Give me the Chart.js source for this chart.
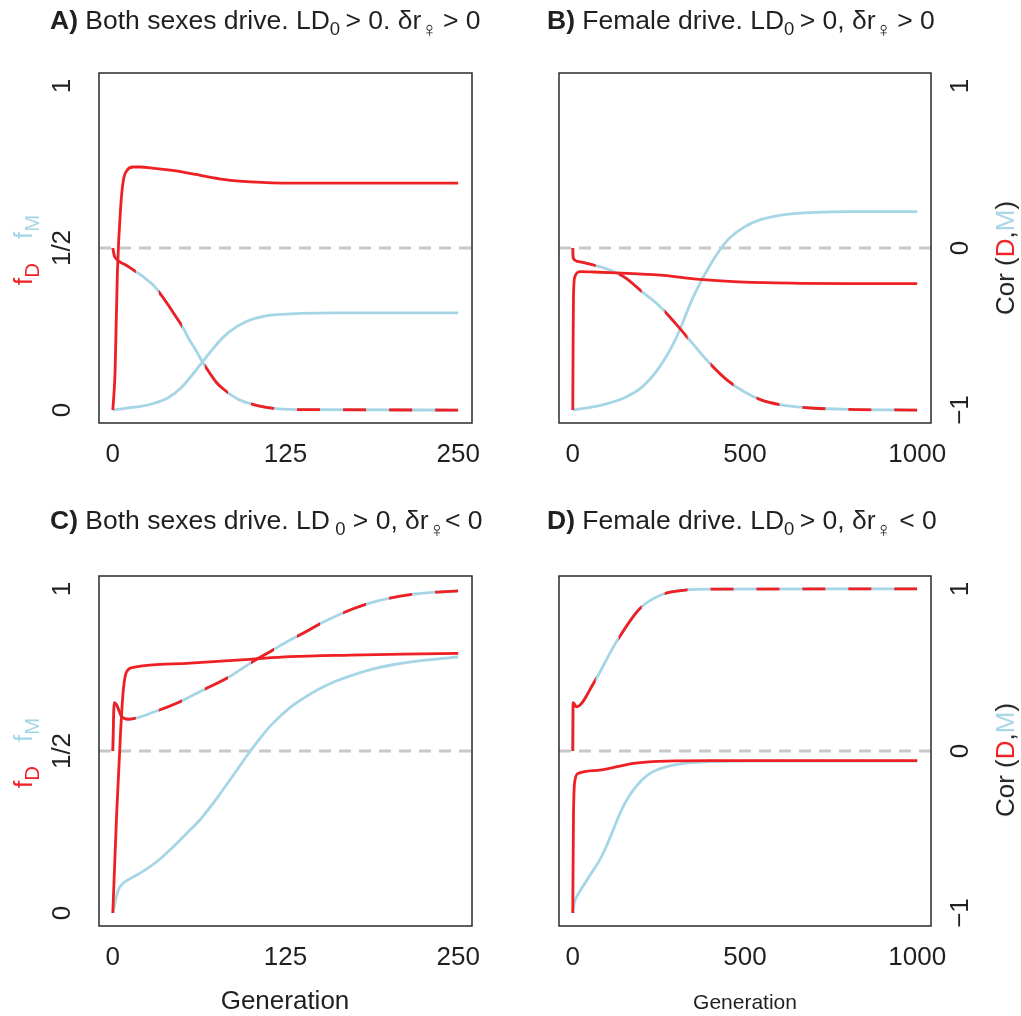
<!DOCTYPE html>
<html><head><meta charset="utf-8">
<script src="https://cdn.jsdelivr.net/npm/chart.js@4/dist/chart.umd.min.js"></script>
<style>
body{margin:0;background:#fff;width:1021px;height:1016px;overflow:hidden;position:relative;font-family:"Liberation Sans",Arial,sans-serif;color:#231f20}
canvas{position:absolute;left:0;top:0}
.t{position:absolute;font-size:26.5px;white-space:nowrap;line-height:26px}
.rot{position:absolute;white-space:nowrap;line-height:1;font-size:26px;transform:translate(-50%,-50%) rotate(-90deg)}
.gen{position:absolute;white-space:nowrap;line-height:1;transform:translate(-50%,-50%)}
sub{font-size:70%;vertical-align:-0.35em;line-height:0}
sub.v{font-size:82%}
.rot sub{font-size:78%}
.r{color:#ee2024}.b{color:#a6d6e6}
</style></head>
<body>
<canvas id="cA" width="1021" height="1016"></canvas>
<canvas id="cB" width="1021" height="1016"></canvas>
<canvas id="cC" width="1021" height="1016"></canvas>
<canvas id="cD" width="1021" height="1016"></canvas>

<div class="t" style="left:50px;top:7px"><b>A)</b> Both sexes drive. LD<sub>0</sub>&thinsp;&gt; 0. δr<sub class="v">♀</sub>&thinsp;&gt; 0</div>
<div class="t" style="left:547px;top:7px"><b>B)</b> Female drive. LD<sub>0</sub>&thinsp;&gt; 0, δr<sub class="v">♀</sub>&thinsp;&gt; 0</div>
<div class="t" style="left:50px;top:507px"><b>C)</b> Both sexes drive. LD&thinsp;<sub>0</sub> &gt; 0, δr<sub class="v">♀</sub>&lt; 0</div>
<div class="t" style="left:547px;top:507px"><b>D)</b> Female drive. LD<sub>0</sub>&thinsp;&gt; 0, δr<sub class="v">♀</sub> &lt; 0</div>

<div class="rot r" style="left:23px;top:274px">f<sub>D</sub></div>
<div class="rot b" style="left:23px;top:227px">f<sub>M</sub></div>
<div class="rot r" style="left:23px;top:777px">f<sub>D</sub></div>
<div class="rot b" style="left:23px;top:730px">f<sub>M</sub></div>
<div class="rot" style="left:1005px;top:258px">Cor (<span class="r">D</span>,<span class="b">M</span>)</div>
<div class="rot" style="left:1005px;top:760px">Cor (<span class="r">D</span>,<span class="b">M</span>)</div>

<div class="gen" style="left:285px;top:1000px;font-size:26px">Generation</div>
<div class="gen" style="left:745px;top:1001px;font-size:21px">Generation</div>

<script>
// ---------- data ----------
// Panel A (both sexes drive, dr > 0), generations 0..250
const gensA_fD = [0, 1.6, 3.3, 5.7, 7.6, 10.3, 14.6, 20, 30, 40, 50, 60, 70, 80, 90, 100, 115, 130, 250];
const fD_A     = [0, 0.113, 0.423, 0.627, 0.708, 0.740, 0.750, 0.750, 0.746, 0.741, 0.735, 0.727, 0.719, 0.712, 0.707, 0.704, 0.701, 0.700, 0.700];
const gensA_fM = [0, 10, 20, 30, 40, 50, 60, 70, 80, 90, 100, 110, 120, 135, 160, 250];
const fM_A     = [0, 0.006, 0.011, 0.021, 0.038, 0.071, 0.122, 0.176, 0.225, 0.258, 0.279, 0.290, 0.295, 0.298, 0.300, 0.300];
const gensA_cor = [0, 1, 2, 5, 10, 15, 20, 25, 30, 35, 40, 45, 50, 55, 60, 65, 70, 75, 80, 90, 100, 110, 120, 140, 250];
const corA      = [0, -0.045, -0.062, -0.085, -0.108, -0.136, -0.165, -0.198, -0.235, -0.29, -0.35, -0.415, -0.48, -0.56, -0.63, -0.705, -0.77, -0.83, -0.87, -0.93, -0.962, -0.982, -0.993, -0.998, -1];

// Panel B (female drive, dr > 0), generations 0..1000
const gensB_fD = [0, 1, 2, 6, 21, 60, 127, 253, 369, 466, 659, 800, 1000];
const fD_B     = [0, 0.22, 0.349, 0.411, 0.427, 0.426, 0.423, 0.416, 0.403, 0.396, 0.391, 0.390, 0.390];
const gensB_fM = [0, 50, 100, 150, 200, 250, 300, 350, 400, 450, 500, 550, 600, 650, 700, 800, 1000];
const fM_B     = [0, 0.008, 0.02, 0.038, 0.07, 0.13, 0.222, 0.35, 0.45, 0.525, 0.566, 0.589, 0.601, 0.607, 0.610, 0.612, 0.612];
const gensB_cor = [0, 0.5, 1.5, 20, 60, 100, 150, 200, 250, 300, 350, 400, 450, 500, 550, 600, 650, 700, 800, 1000];
const corB      = [0, -0.037, -0.064, -0.085, -0.105, -0.13, -0.18, -0.268, -0.355, -0.47, -0.595, -0.717, -0.818, -0.89, -0.94, -0.966, -0.98, -0.989, -0.996, -1];

// Panel C (both sexes drive, dr < 0), generations 0..250
const gensC_fD = [0, 2.8, 5.7, 7.6, 10, 14.8, 56, 99, 128, 172, 210, 250];
const fD_C     = [0, 0.308, 0.565, 0.688, 0.745, 0.758, 0.771, 0.783, 0.791, 0.796, 0.799, 0.801];
const gensC_fM = [0, 2, 4, 7, 10, 15, 20, 27, 35, 44, 53, 63, 72, 80, 90, 99, 108, 116, 128, 140, 150, 160, 172, 190, 208, 230, 250];
const fM_C     = [0, 0.04, 0.071, 0.09, 0.100, 0.112, 0.124, 0.143, 0.17, 0.205, 0.244, 0.287, 0.335, 0.382, 0.442, 0.497, 0.547, 0.586, 0.633, 0.668, 0.693, 0.713, 0.732, 0.755, 0.770, 0.782, 0.790];
const gensC_cor = [0, 1, 2.8, 6.4, 11.2, 31.8, 48.7, 65.5, 82.5, 99.3, 115, 128.3, 140, 150, 160, 174, 186, 199.5, 216.4, 233.3, 250];
const corC      = [0, 0.298, 0.284, 0.212, 0.196, 0.247, 0.304, 0.377, 0.449, 0.541, 0.619, 0.685, 0.737, 0.785, 0.827, 0.878, 0.913, 0.942, 0.967, 0.980, 0.988];

// Panel D (female drive, dr < 0), generations 0..1000
const gensD_fD = [0, 2, 6.4, 16, 79, 176, 273, 400, 1000];
const fD_D     = [0, 0.30, 0.41, 0.431, 0.441, 0.462, 0.469, 0.470, 0.470];
const gensD_fM = [0, 4, 11, 25, 40, 60, 75, 89, 100, 113, 125, 137, 150, 163, 176, 200, 224, 250, 273, 300, 340, 400, 500, 1000];
const fM_D     = [0, 0.03, 0.05, 0.075, 0.1, 0.133, 0.158, 0.186, 0.212, 0.245, 0.277, 0.307, 0.336, 0.36, 0.380, 0.41, 0.431, 0.444, 0.452, 0.458, 0.464, 0.467, 0.469, 0.469];
const gensD_cor = [0, 1, 11, 60, 127, 195, 263, 331, 400, 1000];
const corD      = [0, 0.298, 0.273, 0.417, 0.675, 0.880, 0.969, 0.994, 0.999, 1];

// tick labels
const xTicks250 = [0, 125, 250];
const xTicks1000 = [0, 500, 1000];
const leftTickValues = [0, 0.5, 1];
const leftTickLabels = ['0', '1/2', '1'];
const rightTickValues = [-1, 0, 1];
const rightTickLabels = ['\u22121', '0', '1'];

// ---------- styling ----------
const RED = '#ee2024', BLUE = '#a6d6e6', GREY = '#c8c8c8', INK = '#231f20';
const W = 1021, H = 1016;

const pts = (xs, ys) => xs.map((x, i) => ({x: x, y: ys[i]}));

// colour the correlation curve red in alternate x-intervals (15 intervals across the range)
const stripePlugin = {
  id: 'stripes',
  beforeDatasetDraw(chart, args) {
    const ds = chart.data.datasets[args.index];
    if (!ds.stripe) return;
    const ctx = chart.ctx, xs = chart.scales.x, a = chart.chartArea;
    const L = ds.stripe.len, max = ds.stripe.max;
    ctx.save();
    ctx.beginPath();
    for (let k = 0; k * L < max - 1e-9; k += 2) {
      const x0 = k === 0 ? a.left : xs.getPixelForValue(k * L);
      const x1 = xs.getPixelForValue(Math.min((k + 1) * L, max + L));
      ctx.rect(x0, a.top - 10, x1 - x0, a.bottom - a.top + 20);
    }
    ctx.clip();
  },
  afterDatasetDraw(chart, args) {
    if (chart.data.datasets[args.index].stripe) chart.ctx.restore();
  }
};

const frameText = {
  id: 'frameText',
  afterDraw(chart, args, o) {
    const ctx = chart.ctx, a = chart.chartArea, xs = chart.scales.x;
    ctx.save();
    ctx.strokeStyle = '#2a2a2a';
    ctx.lineWidth = 1.5;
    ctx.strokeRect(a.left, a.top, a.right - a.left, a.bottom - a.top);
    ctx.fillStyle = INK;
    ctx.font = '26px "Liberation Sans", Arial, sans-serif';
    ctx.textAlign = 'center';
    ctx.textBaseline = 'middle';
    o.xTicks.forEach(v => ctx.fillText(String(v), xs.getPixelForValue(v), a.bottom + 32));
    const ys = chart.scales[o.yScale];
    const lx = o.side === 'left' ? a.left - 36 : a.right + 30;
    o.yValues.forEach((v, i) => {
      ctx.save();
      ctx.translate(lx, ys.getPixelForValue(v));
      ctx.rotate(-Math.PI / 2);
      ctx.fillText(o.yLabels[i], 0, 0);
      ctx.restore();
    });
    ctx.restore();
  }
};

function panel(id, box, xmax, fDx, fDy, fMx, fMy, cx, cy, xTicks, side) {
  const lineOpts = {pointRadius: 0, borderWidth: 2.8, fill: false, cubicInterpolationMode: 'monotone'};
  const xmin = -0.04 * xmax, xmaxP = 1.04 * xmax;
  new Chart(document.getElementById(id), {
    type: 'line',
    data: {
      datasets: [
        {data: [{x: xmin, y: 0.5}, {x: xmaxP, y: 0.5}], borderColor: GREY, borderWidth: 3,
         borderDash: [12, 8], pointRadius: 0, yAxisID: 'y', order: 10},
        Object.assign({data: pts(fMx, fMy), borderColor: BLUE, yAxisID: 'y', order: 5}, lineOpts),
        Object.assign({data: pts(cx, cy), borderColor: BLUE, yAxisID: 'y2', order: 4}, lineOpts),
        Object.assign({data: pts(cx, cy), borderColor: RED, yAxisID: 'y2', order: 3,
          stripe: {len: xmax / 15, max: xmax}}, lineOpts),
        Object.assign({data: pts(fDx, fDy), borderColor: RED, yAxisID: 'y', order: 2}, lineOpts)
      ]
    },
    options: {
      responsive: false, animation: false, parsing: true,
      layout: {padding: {left: box[0], top: box[1], right: W - box[2], bottom: H - box[3]}},
      scales: {
        x: {type: 'linear', min: xmin, max: xmaxP, display: false},
        y: {type: 'linear', min: -0.04, max: 1.04, display: false},
        y2: {type: 'linear', min: -1.08, max: 1.08, display: false}
      },
      plugins: {
        legend: {display: false}, tooltip: {enabled: false},
        frameText: side === 'left'
          ? {xTicks: xTicks, yScale: 'y', side: 'left', yValues: leftTickValues, yLabels: leftTickLabels}
          : {xTicks: xTicks, yScale: 'y2', side: 'right', yValues: rightTickValues, yLabels: rightTickLabels}
      }
    },
    plugins: [stripePlugin, frameText]
  });
}

panel('cA', [99, 73, 472, 423], 250, gensA_fD, fD_A, gensA_fM, fM_A, gensA_cor, corA, xTicks250, 'left');
panel('cB', [559, 73, 931, 423], 1000, gensB_fD, fD_B, gensB_fM, fM_B, gensB_cor, corB, xTicks1000, 'right');
panel('cC', [99, 576, 472, 926], 250, gensC_fD, fD_C, gensC_fM, fM_C, gensC_cor, corC, xTicks250, 'left');
panel('cD', [559, 576, 931, 926], 1000, gensD_fD, fD_D, gensD_fM, fM_D, gensD_cor, corD, xTicks1000, 'right');
</script>
</body></html>
